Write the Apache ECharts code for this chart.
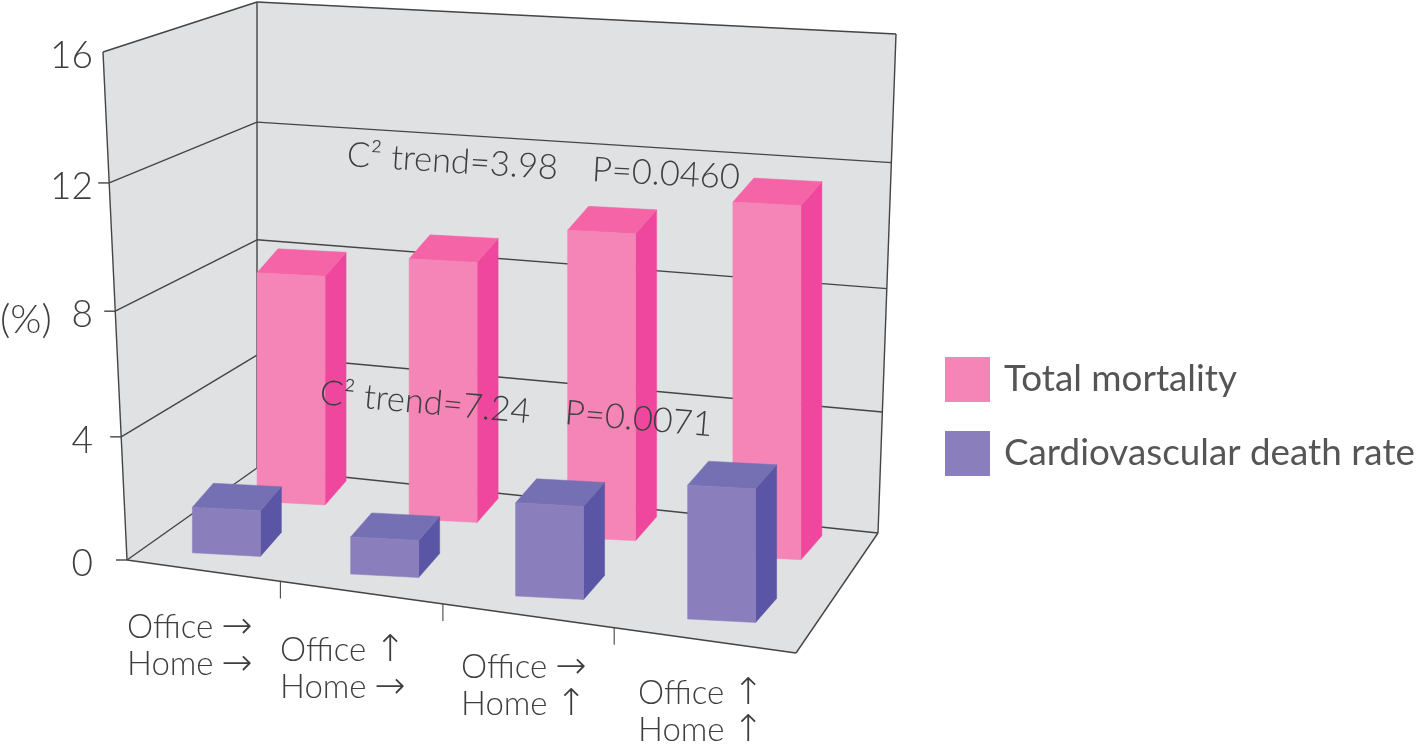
<!DOCTYPE html>
<html><head><meta charset="utf-8">
<style>html,body{margin:0;padding:0;background:#fff}#c{width:1416px;height:748px}</style>
<script src="https://cdn.jsdelivr.net/npm/echarts@6/dist/echarts.min.js"></script>
</head><body><div id="c"></div>
<script>
// ---- data ----
const categories = ['Office→ Home→', 'Office↑ Home→', 'Office→ Home↑', 'Office↑ Home↑'];
const officeArrows = ['→', '↑', '→', '↑'];
const homeArrows = ['→', '→', '↑', '↑'];
const totalMortality = [7.75, 8.65, 10.0, 11.3];
const cardiovascularDeath = [1.5, 1.2, 2.95, 4.15];
const valueTicks = [0, 4, 8, 12, 16];
const seriesNames = ['Total mortality', 'Cardiovascular death rate'];
const trendNotes = ['C² trend=3.98', 'P=0.0460', 'C² trend=7.24', 'P=0.0071'];

// ---- drawing layout (perspective box and text placement) ----
const FBL = [127, 560], FBR = [796, 653], BBL = [257, 468], BBR = [878, 533];
const FTL = [103, 52], BTL = [257, 2], BTR = [896, 34];
const GRID = { left: 127, top: 52, width: 669, height: 508 };
const DEPTH = { pink: 0.71, blue: 0.17 };
const SHIFT = { pink: -2, blue: 0.5 };
const BAR = { w: 68, slope: 0.052, dx: 21, dy: -24 };
const COLORS = {
  pink: { front: '#F485B6', side: '#EF479D', top: '#F464A7' },
  blue: { front: '#8A7EBC', side: '#5A55A5', top: '#7570B3' },
  wall: '#E0E1E3', line: '#454545', text: '#3E3E3E'
};
const FONT = 'Lato, "Open Sans", sans-serif';
const LABEL_POS = [[127, 627], [280, 650], [461, 667], [638, 693]];
const NOTE_POS = [[347, 155, 3.6], [592, 170, 3.0], [320, 393, 5.2], [565, 413, 4.7]];

const warpBar = u => u * 0.92 / (1 - 0.08 * u);
const warpTick = u => u * 0.9 / (1 - 0.1 * u);
const warpW = w => w * 0.96 / (1 - 0.04 * w);
const lerp = (a, b, t) => [a[0] + (b[0] - a[0]) * t, a[1] + (b[1] - a[1]) * t];
const floorPt = (u, d) => lerp(lerp(FBL, FBR, u), lerp(BBL, BBR, u), d);
const boxH = (u, d) => 508 + 36 * u - 42 * d - 3 * u * d;

const line = (a, b, width) => ({ type: 'line', silent: true,
  shape: { x1: a[0], y1: a[1], x2: b[0], y2: b[1] },
  style: { stroke: COLORS.line, lineWidth: width || 1.4 } });
const poly = (pts, fill) => ({ type: 'polygon', silent: true, shape: { points: pts }, style: { fill, stroke: fill, lineWidth: 0.5 } });
const text = (s, x, y, size, extra) => ({ type: 'text', silent: true, x, y, rotation: extra && extra.rot ? -extra.rot * Math.PI / 180 : 0,
  style: { text: s, x: 0, y: 0, fill: COLORS.text, fontFamily: (extra && extra.font) || FONT, fontSize: size,
    align: (extra && extra.align) || 'left', verticalAlign: (extra && extra.va) || 'middle', fontWeight: 300 } });

function renderFrame(params, api) {
  const cs = params.coordSys, kids = [];
  kids.push(poly([FTL, BTL, BBL, FBL], COLORS.wall));
  kids.push(poly([BTL, BTR, BBR, BBL], COLORS.wall));
  kids.push(poly([FBL, FBR, BBR, BBL], COLORS.wall));
  // value grid lines on both walls, with the value scale
  valueTicks.forEach(v => {
    const w = warpW((cs.y + cs.height - api.coord([0, v])[1]) / cs.height);
    const f = lerp(FBL, FTL, w), b = lerp(BBL, BTL, w), r = lerp(BBR, BTR, w);
    kids.push(line(f, b), line(b, r));
    if (v !== 16) kids.push(line([f[0] - 11, f[1]], f));
    kids.push(text(String(v), 93, f[1] + 4, 37, { align: 'right' }));
  });
  kids.push(line(FBL, FTL), line(BBL, BTL), line(BBR, BTR), line(FBL, FBR), line(FBR, BBR));
  // category ticks along the front floor edge
  categories.forEach((c, i) => {
    if (i === categories.length - 1) return;
    const band = api.size([1, 0])[0];
    const u = (api.coord([i, 0])[0] + band / 2 - cs.x) / cs.width;
    const p = floorPt(warpTick(u), 0);
    kids.push(line([p[0] - 1, p[1]], [p[0] - 1, p[1] + 17], 1.1));
  });
  // category labels
  categories.forEach((c, i) => {
    const [x, y] = LABEL_POS[i];
    kids.push(text('Office', x, y, 33), text('Home', x, y + 37, 33));
    kids.push(text(officeArrows[i], x + 110, y + 1, 37, { align: 'center', font: '"DejaVu Sans"' }));
    kids.push(text(homeArrows[i], x + 110, y + 38, 37, { align: 'center', font: '"DejaVu Sans"' }));
  });
  kids.push(text('(%)', 0, 320, 40));
  return { type: 'group', children: kids };
}

function barRenderer(colors, depth, shift) {
  return function (params, api) {
    const cs = params.coordSys;
    const top = api.coord([api.value(0), api.value(1)]);
    const base = api.coord([api.value(0), 0]);
    const u = warpBar((top[0] - cs.x) / cs.width);
    const w = warpW((base[1] - top[1]) / cs.height);
    const c = floorPt(u, depth);
    const h = boxH(u, depth) * w;
    const rise = BAR.slope * BAR.w / 2;
    const fbl = [c[0] + shift - BAR.w / 2, c[1] - rise], fbr = [c[0] + shift + BAR.w / 2, c[1] + rise];
    const ftl = [fbl[0], fbl[1] - h], ftr = [fbr[0], fbr[1] - h];
    const off = p => [p[0] + BAR.dx, p[1] + BAR.dy];
    return { type: 'group', children: [
      poly([fbr, off(fbr), off(ftr), ftr], colors.side),
      poly([ftl, ftr, off(ftr), off(ftl)], colors.top),
      poly([fbl, fbr, ftr, ftl], colors.front)
    ] };
  };
}

function renderNotes() {
  return { type: 'group', children: trendNotes.map((s, i) =>
    text(s, NOTE_POS[i][0], NOTE_POS[i][1], 34.5, { rot: NOTE_POS[i][2] })) };
}

const chart = echarts.init(document.getElementById('c'), null, { renderer: 'canvas' });
chart.setOption({
  animation: false,
  backgroundColor: '#fff',
  grid: GRID,
  xAxis: { type: 'category', data: categories, show: false },
  yAxis: { type: 'value', min: 0, max: 16, interval: 4, show: false },
  legend: {
    orient: 'vertical', left: 940, top: 352, itemWidth: 45, itemHeight: 45, itemGap: 29,
    icon: 'rect', selectedMode: false, data: seriesNames,
    textStyle: { fontFamily: 'Lato, sans-serif', fontSize: 36.8, color: '#555', padding: [4, 0, 0, 9] }
  },
  series: [
    { type: 'custom', name: 'frame', silent: true, data: [[0, 0]], renderItem: renderFrame, clip: false, z: 1 },
    { type: 'custom', name: seriesNames[0], silent: true, itemStyle: { color: COLORS.pink.front }, z: 2, clip: false,
      data: totalMortality.map((v, i) => [i, v]), encode: { x: 0, y: 1 }, renderItem: barRenderer(COLORS.pink, DEPTH.pink, SHIFT.pink) },
    { type: 'custom', name: seriesNames[1], silent: true, itemStyle: { color: COLORS.blue.front }, z: 3, clip: false,
      data: cardiovascularDeath.map((v, i) => [i, v]), encode: { x: 0, y: 1 }, renderItem: barRenderer(COLORS.blue, DEPTH.blue, SHIFT.blue) },
    { type: 'custom', name: 'notes', silent: true, data: [[0, 0]], renderItem: renderNotes, clip: false, z: 4 }
  ]
});
</script></body></html>
